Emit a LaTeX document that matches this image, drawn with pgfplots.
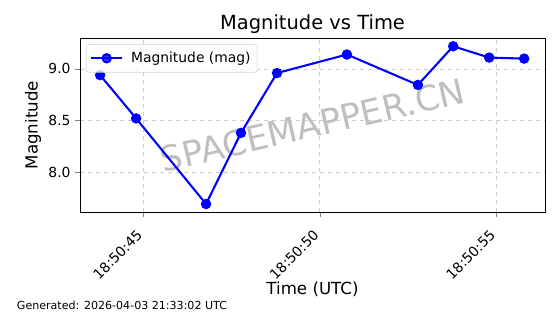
\documentclass[border=0pt]{standalone}
\usepackage{fontspec}
\setmainfont{DejaVu Sans}
\usepackage{pgfplots}
\pgfplotsset{compat=1.18}
\begin{document}
\begin{tikzpicture}
\path[use as bounding box] (0pt,0pt) rectangle (420pt,235.5pt);
\begin{axis}[
  at={(60pt,76.3pt)}, anchor=south west,
  scale only axis, width=348.75pt, height=130.7pt,
  xmin=43.21, xmax=56.38, ymin=7.61, ymax=9.30,
  xtick={45,50,55}, xticklabels={18:50:45,18:50:50,18:50:55},
  ytick={8.0,8.5,9.0},
  yticklabel style={/pgf/number format/.cd,fixed,fixed zerofill,precision=1},
  /pgf/number format/assume math mode=true,
  tick label style={font=\fontsize{10.4}{12}\selectfont, black},
  xticklabel style={xshift=-5.5pt, yshift=-7.25pt, rotate=45, anchor=north east, inner sep=1pt},
  tick align=outside, major tick length=3.6pt,
  xtick pos=bottom, ytick pos=left,
  grid=major, major grid style={dashed, gray!40, line width=0.6pt},
  axis line style={line width=0.6pt},
  xlabel={Time (UTC)},
  xlabel style={font=\fontsize{12.5}{14}\selectfont, at={(axis description cs:0.5,-0.44)}, anchor=center},
  ylabel={Magnitude},
  ylabel style={font=\fontsize{12.5}{14}\selectfont, at={(axis description cs:-0.101,0.5)}, anchor=center, rotate=0},
  legend style={at={(axis description cs:0.013,0.965)}, anchor=north west, draw=gray!35, rounded corners=2pt, fill=white, fill opacity=0.8, text opacity=1, font=\fontsize{10.4}{12}\selectfont, inner xsep=3pt, inner ysep=3.75pt},
  legend image code/.code={\draw[mark repeat=2,mark phase=2,#1] plot coordinates {(0pt,0pt)(11.5pt,0pt)(23pt,0pt)};},
  legend cell align=left,
  clip=false,
]
\node[rotate=13, text=gray!50, font=\fontsize{26}{30}\selectfont] at (axis description cs:0.5,0.5) {SPACEMAPPER.CN};
\addplot[color=blue, line width=1.56pt, mark=*, mark size=3.1pt, mark options={solid, fill=blue, draw=blue}] coordinates {
(43.78,8.94) (44.80,8.52) (46.78,7.69) (47.77,8.38) (48.79,8.96)
(50.77,9.14) (52.78,8.845) (53.78,9.22) (54.80,9.11) (55.79,9.10)
};
\addlegendentry{\hspace{4pt}Magnitude (mag)}
\node[anchor=base, font=\fontsize{14.6}{16}\selectfont] at (axis description cs:0.5,1) [yshift=6.5pt] {Magnitude vs Time};
\end{axis}
\node[anchor=base west, inner sep=0pt, font=\fontsize{8.3}{10}\selectfont] at (12.5pt,3.5pt) {Generated: 2026-04-03 21:33:02 UTC};
\end{tikzpicture}
\end{document}
